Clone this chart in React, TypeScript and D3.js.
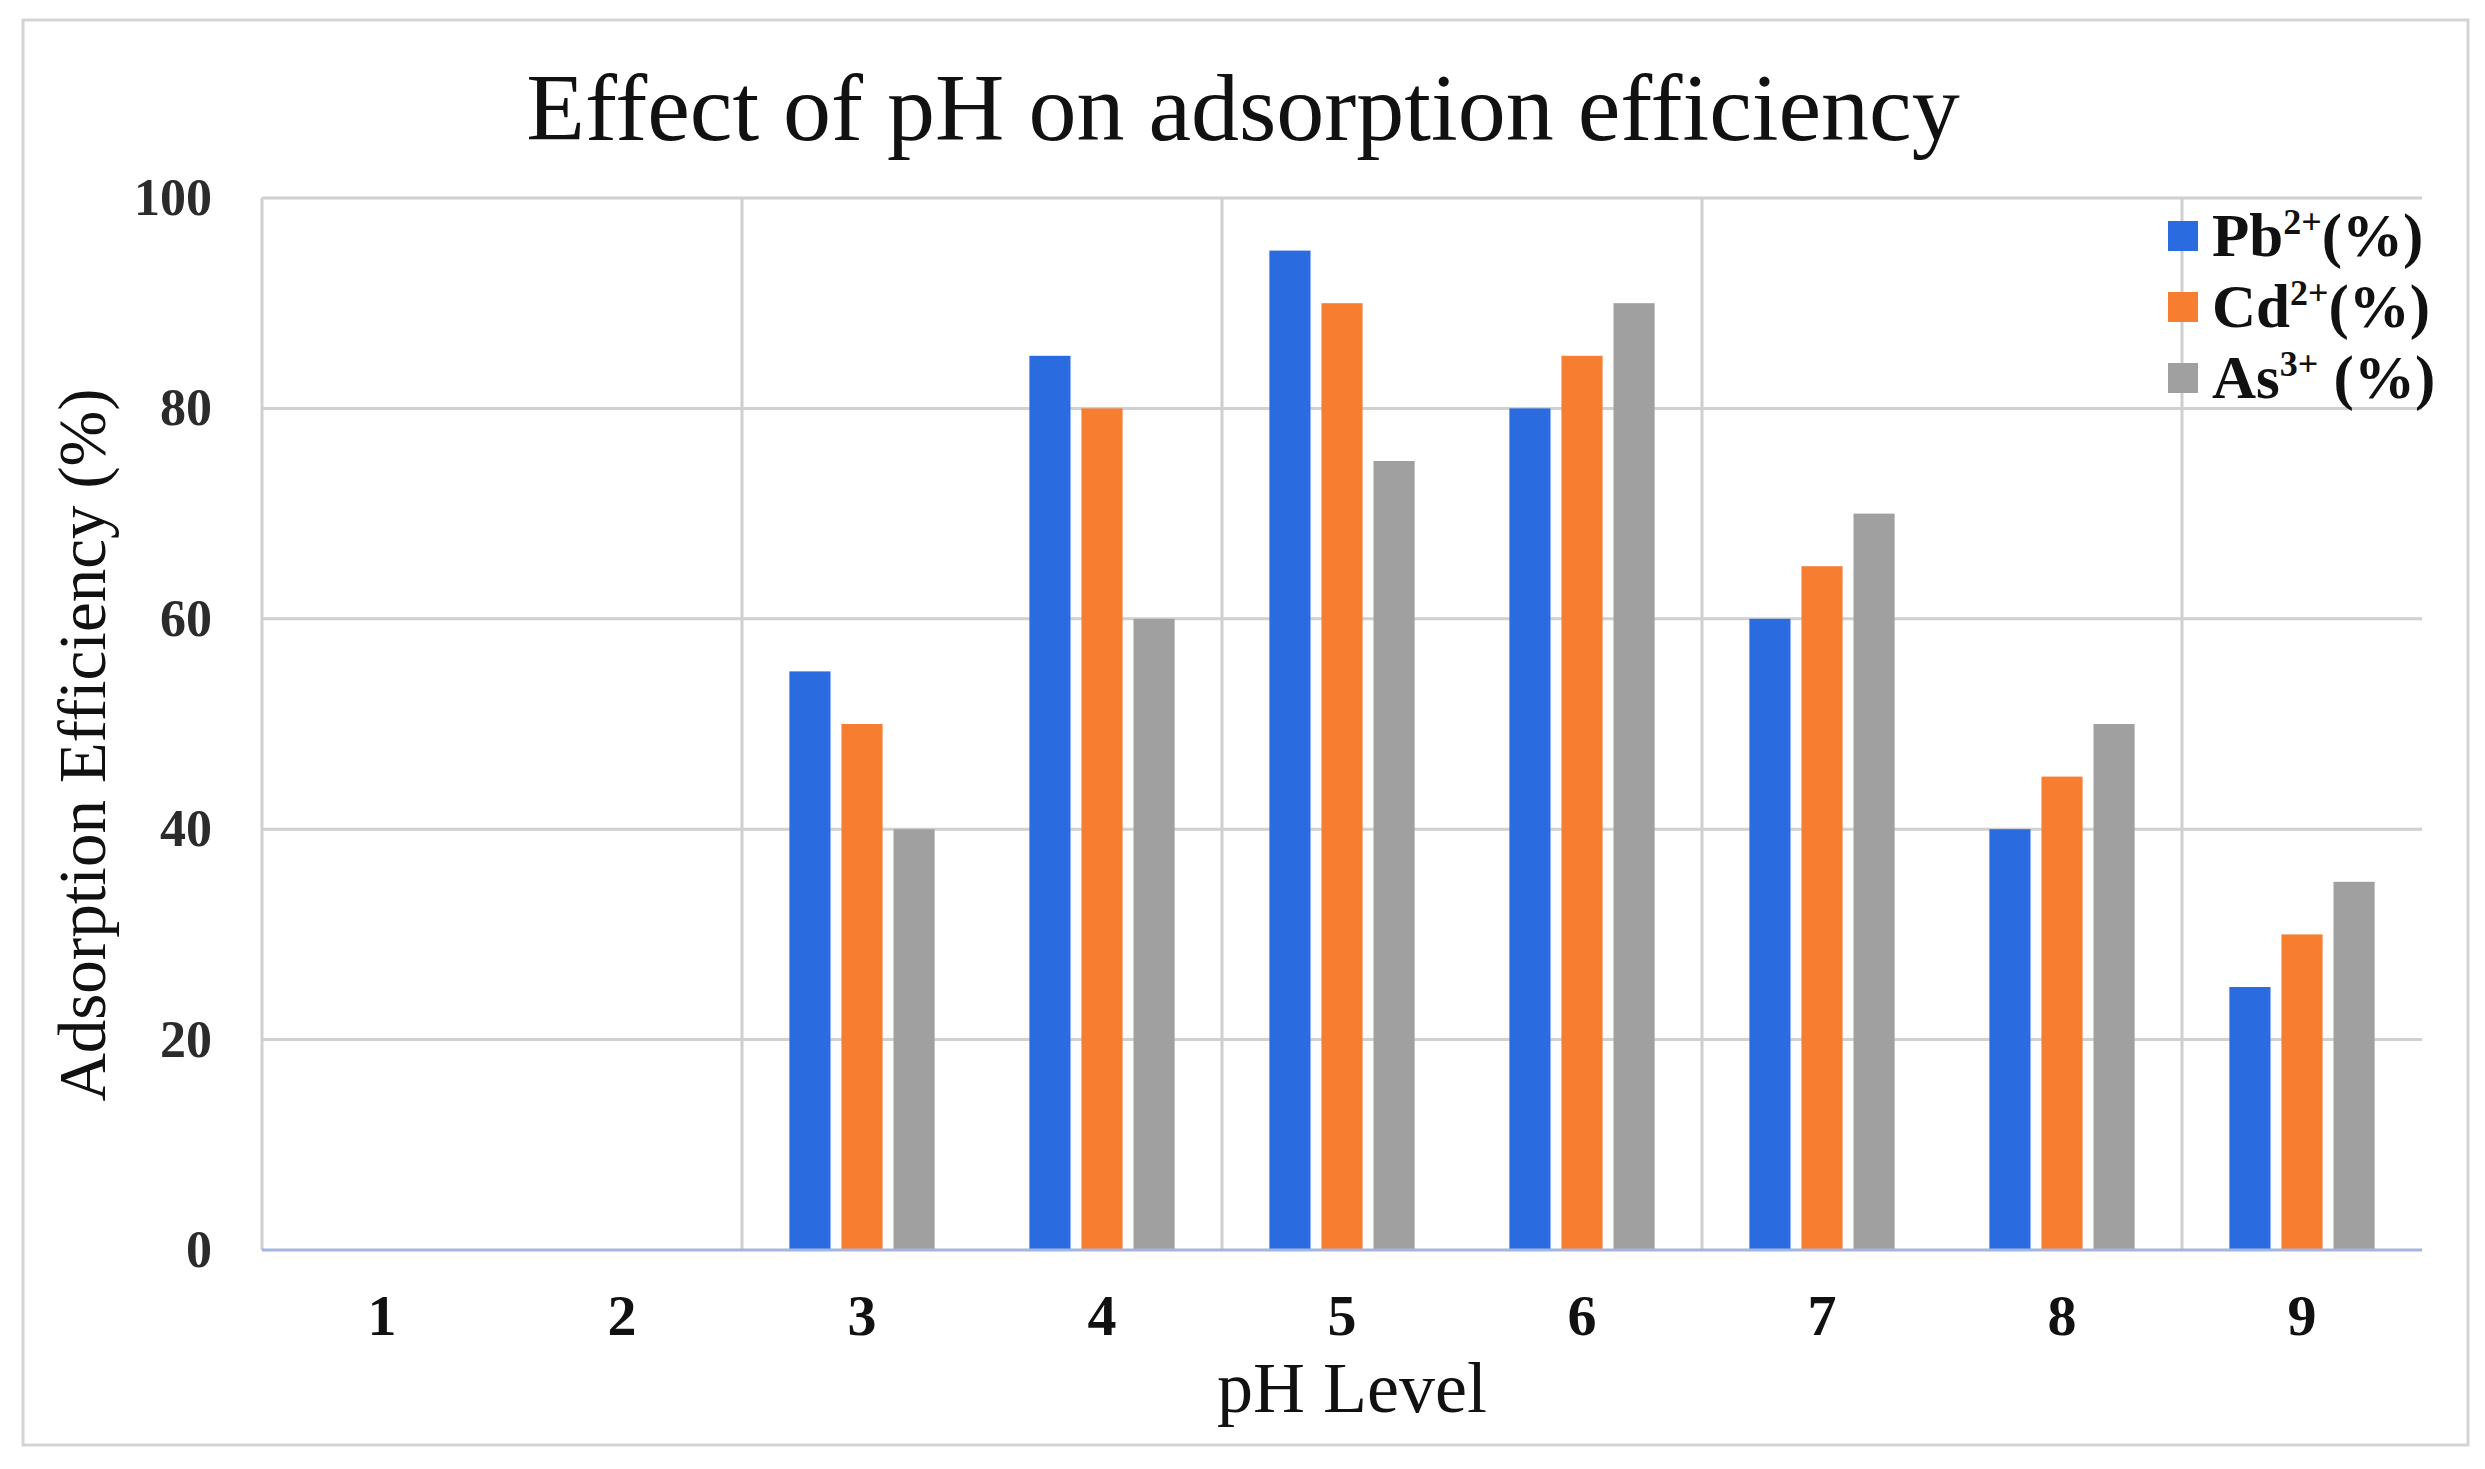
import { useEffect, useRef } from 'react'
import * as d3 from 'd3'

const phLevels = ['1', '2', '3', '4', '5', '6', '7', '8', '9']
const pbValues = [0, 0, 55, 85, 95, 80, 60, 40, 25]
const cdValues = [0, 0, 50, 80, 90, 85, 65, 45, 30]
const asValues = [0, 0, 40, 60, 75, 90, 70, 50, 35]
const yTicks = [0, 20, 40, 60, 80, 100]
const seriesNames = ['Pb', 'Cd', 'As']
const seriesColors = ['#2a6be0', '#f77d31', '#a0a0a0']
const legendLabels = [
  { base: 'Pb', sup: '2+', tail: '(%)' },
  { base: 'Cd', sup: '2+', tail: '(%)' },
  { base: 'As', sup: '3+', tail: ' (%)' },
]

const W = 2485
const H = 1469
const FONT = '"Liberation Serif", "Times New Roman", serif'

export default function App() {
  const svgRef = useRef<SVGSVGElement | null>(null)

  useEffect(() => {
    if (!svgRef.current) return
    const svg = d3.select(svgRef.current)
    svg.selectAll('*').remove()

    const left = 262, right = 2422, top = 198, bottom = 1250

    svg.append('rect').attr('width', W).attr('height', H).attr('fill', '#fff')
    // outer frame
    svg.append('rect').attr('x', 23).attr('y', 20).attr('width', 2445).attr('height', 1425)
      .attr('fill', 'none').attr('stroke', '#d4d4d4').attr('stroke-width', 3)

    const x0 = d3.scaleBand().domain(phLevels).range([left, right]).padding(0)
    const y = d3.scaleLinear().domain([0, 100]).range([bottom, top])
    // bars ~41px wide with ~11px gaps, centred in each 240px category
    const x1 = d3.scaleBand().domain(seriesNames).range([0, x0.bandwidth()])
      .paddingInner(0.21).paddingOuter(0.91)

    // horizontal grid
    svg.append('g').selectAll('line').data(yTicks.filter(t => t > 0)).join('line')
      .attr('x1', left).attr('x2', right)
      .attr('y1', d => y(d)).attr('y2', d => y(d))
      .attr('stroke', '#d0d0d0').attr('stroke-width', 3)

    // vertical grid every 2 categories
    const vLines = [0, 2, 4, 6, 8].map(i => left + i * x0.step())
    svg.append('g').selectAll('line').data(vLines).join('line')
      .attr('x1', d => d).attr('x2', d => d)
      .attr('y1', top).attr('y2', bottom)
      .attr('stroke', '#cfcfcf').attr('stroke-width', 3)

    // bars
    const allSeries = [pbValues, cdValues, asValues]
    allSeries.forEach((vals, si) => {
      svg.append('g').selectAll('rect').data(vals).join('rect')
        .attr('x', (_, i) => (x0(phLevels[i]) ?? 0) + (x1(seriesNames[si]) ?? 0))
        .attr('y', d => y(d))
        .attr('width', x1.bandwidth())
        .attr('height', d => bottom - y(d))
        .attr('fill', seriesColors[si])
    })

    // x axis line
    svg.append('line').attr('x1', left).attr('x2', right)
      .attr('y1', bottom).attr('y2', bottom)
      .attr('stroke', '#a3b5e0').attr('stroke-width', 3)

    // y tick labels
    svg.append('g').selectAll('text').data(yTicks).join('text')
      .attr('x', 212).attr('y', d => y(d) + 17)
      .attr('text-anchor', 'end')
      .attr('font-family', FONT).attr('font-weight', 'bold').attr('font-size', 52)
      .attr('fill', '#2b2b2b')
      .text(d => d)

    // x tick labels
    svg.append('g').selectAll('text').data(phLevels).join('text')
      .attr('x', d => (x0(d) ?? 0) + x0.bandwidth() / 2).attr('y', 1335)
      .attr('text-anchor', 'middle')
      .attr('font-family', FONT).attr('font-weight', 'bold').attr('font-size', 58)
      .attr('fill', '#111')
      .text(d => d)

    // title
    svg.append('text').attr('x', 1243).attr('y', 140)
      .attr('text-anchor', 'middle').attr('font-family', FONT).attr('font-size', 96)
      .attr('fill', '#111').text('Effect of pH on adsorption efficiency')

    // axis titles
    svg.append('text').attr('x', 1352).attr('y', 1412)
      .attr('text-anchor', 'middle').attr('font-family', FONT).attr('font-size', 72)
      .attr('fill', '#111').text('pH Level')
    svg.append('text').attr('transform', 'translate(105,745) rotate(-90)')
      .attr('text-anchor', 'middle').attr('font-family', FONT).attr('font-size', 67)
      .attr('fill', '#111').text('Adsorption Efficiency (%)')

    // legend
    const legend = svg.append('g').attr('transform', 'translate(2168,236)')
    legendLabels.forEach((lab, i) => {
      const row = legend.append('g').attr('transform', `translate(0,${i * 71})`)
      row.append('rect').attr('x', 0).attr('y', -15).attr('width', 30).attr('height', 30)
        .attr('fill', seriesColors[i])
      const t = row.append('text').attr('x', 44).attr('y', 20)
        .attr('font-family', FONT).attr('font-weight', 'bold').attr('font-size', 61)
        .attr('fill', '#111')
      t.append('tspan').text(lab.base)
      t.append('tspan').attr('font-size', 36).attr('dy', -22).text(lab.sup)
      t.append('tspan').attr('dy', 22).text(lab.tail)
    })
  }, [])

  return (
    <svg ref={svgRef} width={W} height={H} viewBox={`0 0 ${W} ${H}`}
      style={{ position: 'absolute', left: 0, top: 0, display: 'block' }} />
  )
}
